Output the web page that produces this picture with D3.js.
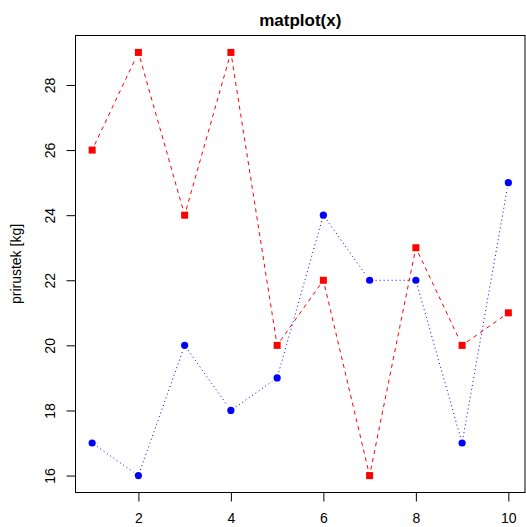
<!DOCTYPE html>
<html><head><meta charset="utf-8">
<script src="https://cdn.jsdelivr.net/npm/d3@7"></script>
<style>body{margin:0;background:#fff}svg{display:block}text{font-family:"Liberation Sans",Arial,sans-serif}</style>
</head><body>
<script>
const xValues = [1,2,3,4,5,6,7,8,9,10];
const seriesRed = [26,29,24,29,20,22,16,23,20,21];
const seriesBlue = [17,16,20,18,19,24,22,22,17,25];
const xTicks = [2,4,6,8,10];
const yTicks = [16,18,20,22,24,26,28];
const title = "matplot(x)";
const yLabel = "prirustek [kg]";

const W = 526, H = 527;
const L = 75.5, R = 525, T = 35.5, B = 492.5;
const svg = d3.select("body").append("svg").attr("width", W).attr("height", H);
const x = d3.scaleLinear().domain([0.64, 10.36]).range([L, R]);
const y = d3.scaleLinear().domain([15.48, 29.52]).range([B, T]);

// box
svg.append("rect").attr("x", L).attr("y", T).attr("width", R - L).attr("height", B - T)
  .attr("fill", "none").attr("stroke", "#000").attr("stroke-width", 1);

// x axis
const gx = svg.append("g").attr("transform", `translate(0,${B})`)
  .call(d3.axisBottom(x).tickValues(xTicks).tickSize(9).tickPadding(12).tickFormat(d3.format("d")));
gx.select(".domain").remove();
gx.selectAll("text").attr("font-size", 14).attr("fill", "#000").style("font-family", '"Liberation Sans",Arial,sans-serif');

// y axis
const gy = svg.append("g").attr("transform", `translate(${L},0)`)
  .call(d3.axisLeft(y).tickValues(yTicks).tickSize(9).tickFormat(d3.format("d")));
gy.select(".domain").remove();
gy.selectAll("text").attr("font-size", 14).attr("fill", "#000")
  .style("font-family", '"Liberation Sans",Arial,sans-serif')
  .attr("text-anchor", "middle").attr("x", 0).attr("dy", null)
  .attr("transform", "translate(-26,0) rotate(-90)").attr("dominant-baseline", "central");

// title
svg.append("text").attr("x", (L + R) / 2).attr("y", 26).attr("text-anchor", "middle")
  .attr("font-size", 17).attr("font-weight", "bold").text(title);
// y label
svg.append("text").attr("transform", `translate(21,${(T + B) / 2}) rotate(-90)`)
  .attr("text-anchor", "middle").attr("font-size", 14).text(yLabel);

function gapSegments(vals) {
  const segs = [];
  const gap = 6;
  for (let i = 0; i < vals.length - 1; i++) {
    const x1 = x(xValues[i]), y1 = y(vals[i]), x2 = x(xValues[i + 1]), y2 = y(vals[i + 1]);
    const dx = x2 - x1, dy = y2 - y1, len = Math.hypot(dx, dy);
    if (len <= 2 * gap) continue;
    const ux = dx / len, uy = dy / len;
    segs.push([x1 + ux * gap, y1 + uy * gap, x2 - ux * gap, y2 - uy * gap]);
  }
  return segs;
}

svg.append("g").selectAll("line").data(gapSegments(seriesRed)).join("line")
  .attr("x1", d => d[0]).attr("y1", d => d[1]).attr("x2", d => d[2]).attr("y2", d => d[3])
  .attr("stroke", "#ff0000").attr("stroke-width", 1).attr("stroke-dasharray", "4,4");
svg.append("g").selectAll("line").data(gapSegments(seriesBlue)).join("line")
  .attr("x1", d => d[0]).attr("y1", d => d[1]).attr("x2", d => d[2]).attr("y2", d => d[3])
  .attr("stroke", "#0000ff").attr("stroke-width", 1).attr("stroke-dasharray", "1,3");

svg.append("g").selectAll("rect").data(seriesRed).join("rect")
  .attr("x", (d, i) => x(xValues[i]) - 3.5).attr("y", d => y(d) - 3.5)
  .attr("width", 7).attr("height", 7).attr("fill", "#ff0000");
svg.append("g").selectAll("circle").data(seriesBlue).join("circle")
  .attr("cx", (d, i) => x(xValues[i])).attr("cy", d => y(d)).attr("r", 3.6).attr("fill", "#0000ff");
</script>
</body></html>
